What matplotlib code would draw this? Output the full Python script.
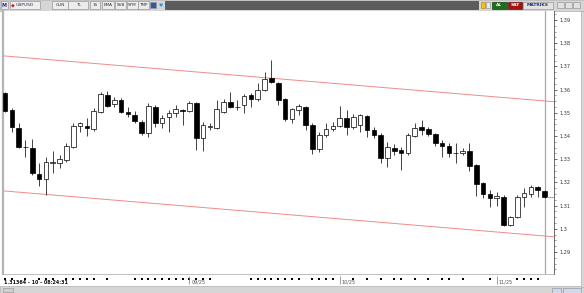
import numpy as np
import matplotlib
matplotlib.use("Agg")
import matplotlib.pyplot as plt
from matplotlib.patches import Rectangle

# GBPUSD daily candles
opens = [1.3586, 1.3513, 1.3435, 1.3355, 1.3349, 1.3237, 1.3215, 1.3286, 1.3285, 1.3298,
         1.3353, 1.3444, 1.3444, 1.3431, 1.3504, 1.3578, 1.3539, 1.3556, 1.3504, 1.3491,
         1.3461, 1.3414, 1.3526, 1.3457, 1.3483, 1.3500, 1.3513, 1.3509, 1.3543, 1.3392,
         1.3440, 1.3435, 1.3504, 1.3547, 1.3526, 1.3534, 1.3578, 1.3560, 1.3599, 1.3651,
         1.3629, 1.3560, 1.3474, 1.3513, 1.3526, 1.3448, 1.3345, 1.3405, 1.3431, 1.3444,
         1.3478, 1.3440, 1.3448, 1.3487, 1.3427, 1.3405, 1.3306, 1.3349, 1.3340, 1.3327,
         1.3401, 1.3440, 1.3431, 1.3409, 1.3371, 1.3358, 1.3327, 1.3327, 1.3336, 1.3275,
         1.3198, 1.3151, 1.3134, 1.3138, 1.3017, 1.3052, 1.3138, 1.3151, 1.3181, 1.3164]
highs = [1.3590, 1.3522, 1.3457, 1.3384, 1.3388, 1.3285, 1.3310, 1.3336, 1.3319, 1.3371,
         1.3457, 1.3461, 1.3478, 1.3522, 1.3590, 1.3595, 1.3569, 1.3565, 1.3526, 1.3509,
         1.3470, 1.3543, 1.3534, 1.3491, 1.3513, 1.3534, 1.3515, 1.3552, 1.3547, 1.3461,
         1.3457, 1.3556, 1.3560, 1.3590, 1.3556, 1.3582, 1.3586, 1.3629, 1.3677, 1.3728,
         1.3634, 1.3565, 1.3522, 1.3539, 1.3530, 1.3457, 1.3418, 1.3457, 1.3461, 1.3530,
         1.3513, 1.3496, 1.3496, 1.3491, 1.3440, 1.3414, 1.3375, 1.3366, 1.3353, 1.3414,
         1.3457, 1.3470, 1.3440, 1.3414, 1.3384, 1.3371, 1.3371, 1.3349, 1.3371, 1.3280,
         1.3200, 1.3168, 1.3159, 1.3146, 1.3056, 1.3146, 1.3177, 1.3190, 1.3185, 1.3168]
lows = [1.3504, 1.3418, 1.3350, 1.3310, 1.3233, 1.3185, 1.3146, 1.3241, 1.3263, 1.3289,
        1.3349, 1.3418, 1.3401, 1.3422, 1.3500, 1.3526, 1.3526, 1.3500, 1.3483, 1.3457,
        1.3405, 1.3397, 1.3440, 1.3435, 1.3418, 1.3483, 1.3448, 1.3504, 1.3340, 1.3336,
        1.3427, 1.3431, 1.3500, 1.3522, 1.3513, 1.3500, 1.3526, 1.3552, 1.3595, 1.3629,
        1.3534, 1.3465, 1.3457, 1.3491, 1.3427, 1.3323, 1.3332, 1.3397, 1.3422, 1.3440,
        1.3405, 1.3431, 1.3418, 1.3397, 1.3392, 1.3285, 1.3267, 1.3319, 1.3254, 1.3319,
        1.3397, 1.3405, 1.3401, 1.3358, 1.3310, 1.3310, 1.3285, 1.3319, 1.3250, 1.3142,
        1.3134, 1.3095, 1.3099, 1.3013, 1.3013, 1.3047, 1.3095, 1.3138, 1.3138, 1.3134]
closes = [1.3509, 1.3440, 1.3353, 1.3351, 1.3241, 1.3215, 1.3289, 1.3290, 1.3302, 1.3358,
          1.3444, 1.3457, 1.3435, 1.3509, 1.3582, 1.3530, 1.3556, 1.3504, 1.3496, 1.3465,
          1.3414, 1.3530, 1.3457, 1.3478, 1.3500, 1.3517, 1.3509, 1.3543, 1.3392, 1.3448,
          1.3442, 1.3517, 1.3547, 1.3526, 1.3527, 1.3573, 1.3560, 1.3599, 1.3647, 1.3634,
          1.3556, 1.3474, 1.3517, 1.3530, 1.3448, 1.3345, 1.3405, 1.3431, 1.3444, 1.3478,
          1.3440, 1.3483, 1.3491, 1.3427, 1.3405, 1.3306, 1.3353, 1.3336, 1.3327, 1.3405,
          1.3435, 1.3427, 1.3409, 1.3371, 1.3358, 1.3327, 1.3328, 1.3336, 1.3271, 1.3193,
          1.3151, 1.3134, 1.3142, 1.3017, 1.3052, 1.3138, 1.3155, 1.3181, 1.3168, 1.3136]

# regression channel (start / end)
chan_x = [0.7, 81.4]
chan_upper = [1.3746, 1.3548]
chan_lower = [1.3164, 1.2966]

price_ticks = [1.29, 1.30, 1.31, 1.32, 1.33, 1.34, 1.35, 1.36, 1.37, 1.38, 1.39]
day_dots = [1, 2, 4, 6, 7, 8, 10, 11, 12, 13, 14, 16, 20, 21, 22, 23, 24, 25, 26, 27,
            28, 29, 30, 31, 37, 38, 39, 40, 41, 42, 43, 44, 46, 47, 48, 49, 52, 54, 56,
            58, 59, 61, 63, 65, 66, 68, 72, 76, 77, 78, 79]
month_pos = [28, 50, 73]
month_lbl = ["09/25", "10/25", "11/25"]
last_info = "1.31364 - 10 - 08:24:31"

W, H = 584, 293
fig = plt.figure(figsize=(W / 100, H / 100), dpi=100)
fig.patch.set_facecolor("white")

# ---- frame / toolbar (pixel coords)
deco = fig.add_axes([0, 0, 1, 1])
deco.set_xlim(0, W)
deco.set_ylim(H, 0)
deco.axis("off")

def box(x, y, w, h, fc, ec="#9a9a9a", lw=0.5):
    deco.add_patch(Rectangle((x, y), w, h, facecolor=fc, edgecolor=ec, lw=lw))

box(0, 0, W, 10.5, "#d6d6d6", ec="#b0b0b0")
box(1, 1, 7, 8, "#e8e8e8")
deco.text(4.5, 5.2, "M", fontsize=3.5, color="#223388", ha="center", va="center", weight="bold")
box(10, 1, 30, 8, "#eeeeee")
deco.text(11, 5.2, "◆", fontsize=3.5, color="#cc2222", va="center")
deco.text(16, 5.2, "GBPUSD", fontsize=3.2, color="#333355", va="center")
for x0, w0, t in [(52, 16, "GUN"), (68, 20, "TL"), (90, 10, "1S"), (102, 12, "EMA"),
                  (115, 11, "SVB"), (127, 11, "SYM"), (138, 11, "TMP")]:
    box(x0, 1, w0, 8, "#ececec")
    deco.text(x0 + w0 / 2, 5.2, t, fontsize=3, color="#333333", ha="center", va="center")
box(150, 2, 6, 6, "#3355aa")
deco.text(159, 5.2, "♥", fontsize=3.5, color="#2299dd", va="center")
box(165, 1, 313, 8, "#5c5c5c", ec="#444444")
box(481, 2, 4, 6, "#f0c020", ec="#c09000")
box(486, 2, 4, 6, "#e8e8e8")
box(492, 1.5, 15, 7, "#1e6e1e", ec="#114411")
deco.text(499.5, 5.2, "AL", fontsize=3.2, color="white", ha="center", va="center", weight="bold")
box(508, 1.5, 14, 7, "#a01515", ec="#601010")
deco.text(515, 5.2, "SAT", fontsize=3.2, color="white", ha="center", va="center", weight="bold")
box(523, 1.5, 30, 7, "#e2e2e2")
deco.text(538, 5.2, "MATRIKS", fontsize=3.2, color="#223377", ha="center", va="center", weight="bold")
for x0 in (557, 565, 573):
    box(x0, 2, 7, 6, "#e0e0e0")

box(0, 286, W, 7, "#d6d6d6", ec="#b0b0b0")
box(3, 288, 10, 4, "#cfcfcf")
box(552, 287.5, 9, 5, "#d0d8ec")
box(563, 287.5, 18, 5, "#d0d8ec")
box(581, 10.5, 3, 276, "#d6d6d6", ec="#b0b0b0")

# ---- price chart
ax = fig.add_axes([3 / W, 1 - 274 / H, 551 / W, 263 / H])
ax.set_facecolor("white")
idx = np.arange(1, len(opens) + 1)
o = np.array(opens)
c = np.array(closes)
up = c >= o
ax.vlines(idx, lows, highs, color="#222222", lw=0.6, zorder=2)
body = np.maximum(np.abs(c - o), 0.00012)
ax.bar(idx, body, bottom=np.minimum(o, c), width=0.68,
       color=np.where(up, "white", "black"), edgecolor="black", lw=0.5, zorder=3)

ax.plot(chan_x, chan_upper, color="#f28a8a", lw=0.7, zorder=1)
ax.plot(chan_x, chan_lower, color="#f28a8a", lw=0.7, zorder=1)
ax.axvline(80.06, color="#a8a8a8", lw=0.9, zorder=1)
ax.plot([80.4, 81.3], [closes[-1]] * 2, color="#40d0d0", lw=0.7, zorder=4)

ax.set_xlim(0.707, 81.38)
ax.set_ylim(1.28056, 1.39392)
ax.yaxis.tick_right()
ax.set_yticks(price_ticks)
ax.set_yticklabels([f"{round(v, 2):g}" for v in price_ticks])
ax.set_yticks(np.arange(1.2825, 1.3925, 0.0025), minor=True)
ax.tick_params(axis="y", which="major", labelsize=3.6, length=2.5, width=0.5,
               pad=1.5, colors="#333333")
ax.tick_params(axis="y", which="minor", length=1.2, width=0.4, colors="#555555")
ax.set_xticks([])
for s in ("top", "bottom"):
    ax.spines[s].set_visible(False)
ax.spines["left"].set_color("#b4b4b4")
ax.spines["left"].set_linewidth(1.6)
ax.spines["right"].set_color("#555555")
ax.spines["right"].set_linewidth(0.6)

# ---- date strip
bx = fig.add_axes([3 / W, 1 - 286 / H, 551 / W, 12 / H], sharex=ax)
bx.set_ylim(0, 1)
bx.axis("off")
bx.axhline(1.0, color="#b4b4b4", lw=0.6)
bx.scatter(day_dots, [0.62] * len(day_dots), s=0.8, marker="s", color="black", lw=0)
for p, t in zip(month_pos, month_lbl):
    bx.vlines(p, 0.15, 0.8, color="#777777", lw=0.5)
    bx.text(p + 0.3, 0.3, t, fontsize=3.5, color="#555555", va="center")
bx.text(0.9, 0.3, last_info, fontsize=3.5, color="#111111", va="center", weight="bold")

fig.savefig("out.png", dpi=100)
